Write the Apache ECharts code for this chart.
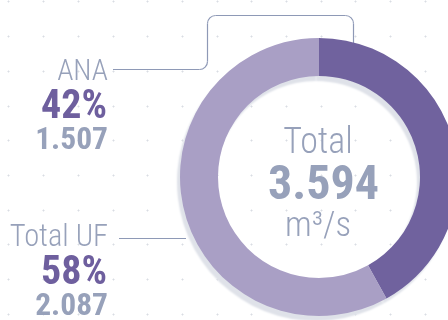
<!DOCTYPE html>
<html>
<head>
<meta charset="utf-8">
<script src="https://cdn.jsdelivr.net/npm/echarts@6/dist/echarts.min.js"></script>
<style>
  html, body { margin: 0; padding: 0; background: #fff; }
  #chart {
    width: 448px; height: 320px;
    /* faint dotted grid behind the chart */
    background-color: #fff;
    background-image: url("data:image/svg+xml,%3Csvg xmlns='http://www.w3.org/2000/svg' width='34.7' height='34.7'%3E%3Cpath d='M1.5 0.5v2M0.5 1.5h2' stroke='%23d9dce3' stroke-width='1'/%3E%3C/svg%3E");
    background-size: 34.7px 34.7px;
    background-position: 7.5px 0.5px;
  }
</style>
</head>
<body>
<div id="chart"></div>
<script>
// Flow split, m³/s
const categories = ['ANA', 'Total UF'];
const flows = [1.507, 2.087];
const unit = 'm³/s';
const centerTitle = 'Total';

const total = flows.reduce((a, b) => a + b, 0);
const shares = flows.map(v => Math.round(v / total * 100));
const fmt = v => v.toFixed(3);

const sliceColors = ['#70629e', '#a99fc5'];
const muted = '#97a1ba';
const accent = '#6e5f9e';
const lineColor = '#8e99b6';
const FONT = "'Roboto Condensed', 'Liberation Sans Narrow', sans-serif";

const chart = echarts.init(document.getElementById('chart'), null, { renderer: 'canvas' });

function label(text, x, y, size, weight, color, align) {
  return {
    type: 'text', x: x, y: y, z: 10, silent: true,
    style: {
      text: text, fill: color, font: weight + ' ' + size + 'px ' + FONT,
      textAlign: align || 'right', textVerticalAlign: 'middle'
    }
  };
}

const stroke = { stroke: lineColor, lineWidth: 1.2, fill: null };
function seg(x1, y1, x2, y2) {
  return { type: 'line', z: 0, silent: true, shape: { x1, y1, x2, y2 }, style: stroke };
}
function corner(cx, cy, r, a0, a1) {
  return { type: 'arc', z: 0, silent: true,
    shape: { cx, cy, r, startAngle: a0, endAngle: a1, clockwise: a1 > a0 }, style: stroke };
}

// leader from the first label: right, up, across the top, down to its slice
const R = 8, PI = Math.PI;
const leader = [
  seg(113, 69.5, 207.5 - R, 69.5),
  corner(207.5 - R, 69.5 - R, R, PI / 2, 0),
  seg(207.5, 69.5 - R, 207.5, 15.5 + R),
  corner(207.5 + R, 15.5 + R, R, PI, 1.5 * PI),
  seg(207.5 + R, 15.5, 353.5 - R, 15.5),
  corner(353.5 - R, 15.5 + R, R, 1.5 * PI, 2 * PI),
  seg(353.5, 15.5 + R, 353.5, 44)
];

chart.setOption({
  animation: false,
  series: [{
    type: 'pie',
    center: [319, 177],
    radius: [101, 139],
    startAngle: 90,
    clockwise: true,
    silent: true,
    label: { show: false },
    labelLine: { show: false },
    itemStyle: {
      borderWidth: 0,
      shadowColor: '#dfe2e9',
      shadowBlur: 2,
      shadowOffsetX: -3,
      shadowOffsetY: 5
    },
    data: categories.map((name, i) => ({
      name: name, value: flows[i], itemStyle: { color: sliceColors[i] }
    }))
  }],
  graphic: leader.concat([
    seg(119, 238.5, 186, 238.5),
    label(categories[0], 108, 73, 29.5, 300, muted),
    label(shares[0] + '%', 107, 108, 40, 700, accent),
    label(fmt(flows[0]), 108, 141, 31.5, 700, muted),
    label(categories[1], 108, 238, 30.5, 300, muted),
    label(shares[1] + '%', 107, 274, 40, 700, accent),
    label(fmt(flows[1]), 108, 307.5, 31.5, 700, muted),
    label(centerTitle, 318, 143.5, 36, 300, muted, 'center'),
    label(fmt(total), 323.5, 186.5, 48, 700, muted, 'center'),
    label(unit, 318, 227, 35, 300, muted, 'center')
  ])
});
</script>
</body>
</html>
